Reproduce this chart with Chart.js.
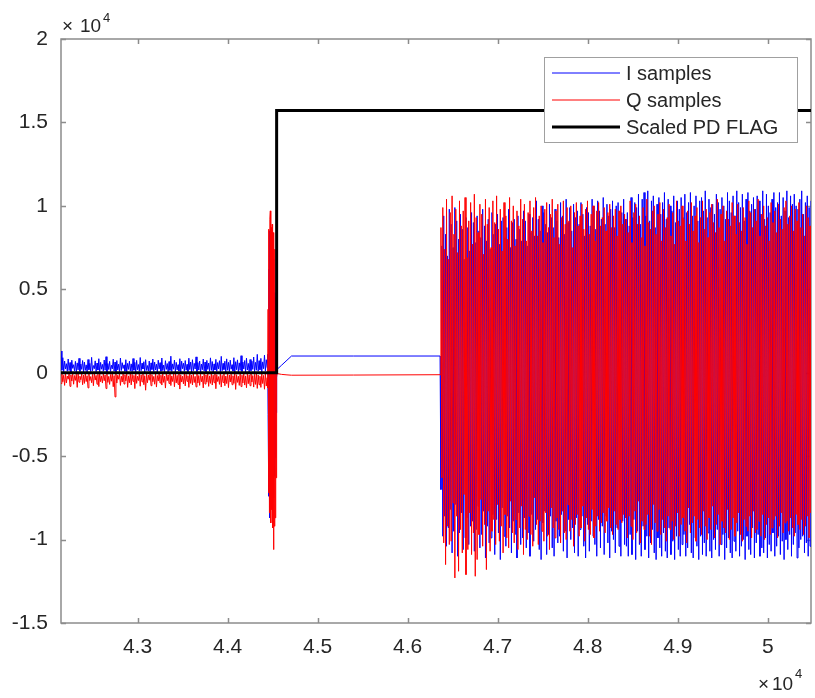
<!DOCTYPE html>
<html>
<head>
<meta charset="utf-8">
<title>I/Q samples and PD flag</title>
<script src="https://cdn.jsdelivr.net/npm/chart.js@4.4.1/dist/chart.umd.min.js"></script>
<style>
  html, body { margin: 0; padding: 0; background: #fff; }
  #wrap { width: 815px; height: 698px; }
</style>
</head>
<body>
<div id="wrap"><canvas id="iqChart" width="815" height="698"></canvas></div>
<script>
// sample index stretches of the capture (start, step)
const preStart = 42150, preStep = 10;
const burstStart = 44445, burstStep = 5;
const quietX = [44550, 44600, 44660, 44710, 45400, 46360];
const oscStart = 46370, oscStep = 10.3;

// I samples
const iPre = [
  1300, 150, 900, 60, 700, 220, 540, 90, 820, 130, 610, 40, 750, 260, 480, 110, 680, 30, 590, 170,
  860, 80, 520, 200, 730, 50, 640, 140, 470, 20, 790, 180, 560, 70, 920, 120, 430, 240, 710, 60,
  580, 160, 840, 30, 620, 210, 500, 90, 760, 150, 960, 40, 550, 190, 680, 80, 450, 230, 810, 100,
  640, 20, 730, 170, 510, 60, 880, 130, 600, 250, 470, 90, 780, 40, 560, 200, 690, 110, 530, 70,
  850, 150, 620, 30, 740, 180, 490, 80, 910, 120, 570, 220, 660, 50, 780, 140, 430, 100, 700, 30,
  590, 190, 820, 70, 640, 160, 510, 40, 750, 230, 600, 90, 880, 130, 460, 60, 720, 200, 550, 20,
  670, 140, 990, 80, 530, 210, 760, 50, 620, 170, 480, 100, 840, 30, 690, 240, 570, 90, 730, 150,
  500, 60, 870, 190, 640, 40, 780, 120, 560, 220, 950, 70, 610, 160, 700, 30, 520, 180, 820, 110,
  640, 50, 740, 200, 580, 90, 890, 140, 670, 30, 530, 170, 800, 80, 610, 230, 720, 60, 980, 120,
  560, 190, 690, 40, 830, 150, 620, 70, 750, 210, 480, 100, 900, 30, 660, 180, 770, 60, 590, 140,
  1020, 80, 640, 220, 730, 50, 870, 160, 560, 30, 790, 120, 690, 200, 940, 70, 620, 150, 1100, 90,
  720, 180, 860, 60, 650, 240, 1050, 100, 780, 300
];
const iBurst = [1100, -2500, 6200, -7400, 8500, -8700, 7600, -6900, 8200, -7800, 7200,
                -8300, 6800, -7500, 5900, -6200, 4800, -5100, 3600, -2400, 500];
const iQuiet = [200, 450, 750, 1000, 1000, 1000];
const iOsc = [
  -7000, 7600, -9800, 9400, -8600, 8300, -10400, 7000, -9300, 9800, -8200, 8900, -10800, 7500, -9500, 9900, -7900, 9100, -11000, 8000,
  -9600, 9500, -8400, 8600, -10600, 6800, -9900, 9300, -8700, 8700, -10300, 7300, -9200, 9600, -8900, 9000, -10700, 7800, -9400, 9400,
  -8000, 8500, -10500, 8100, -9700, 9800, -8300, 8800, -11100, 7900, -9200, 9200, -10200, 7400, -9900, 9600, -8500, 8300, -10900, 8900,
  -8800, 9500, -9600, 7700, -11200, 9100, -8100, 9300, -9800, 8100, -10400, 8700, -8600, 9800, -9300, 7500, -10800, 9000, -8900, 9200,
  -9700, 8000, -11100, 9400, -8400, 8600, -10300, 7900, -9900, 9700, -8700, 9100, -10500, 7600, -9600, 9500, -11000, 8400, -8500, 9300,
  -10100, 8200, -9400, 10300, -8800, 9200, -10600, 8500, -11200, 10000, -9000, 9600, -8300, 8900, -10900, 8400, -9700, 10100, -8600, 9300,
  -10500, 8700, -11000, 9800, -8900, 9100, -10200, 8100, -9800, 10200, -8500, 9400, -10700, 8300, -9500, 10400, -11100, 9000, -8800, 9900,
  -10000, 8500, -9300, 10100, -10800, 9300, -8700, 9700, -11000, 8900, -9400, 10200, -8600, 9500, -10400, 8200, -11100, 9900, -9100, 9600,
  -10700, 8800, -8900, 10400, -9800, 10000, -10300, 8600, -11000, 10300, -8800, 9700, -10500, 9200, -9200, 10500, -10900, 8900, -8600, 10100,
  -10200, 9400, -11100, 9800, -9500, 10300, -10000, 8700, -10800, 10000, -9300, 10200, -10400, 9100, -11000, 9600, -8900, 10400, -10300, 9200,
  -10400, 9600, -11000, 8800, -9700, 10500, -10900, 9300, -8800, 10200, -11200, 9900, -9500, 10700, -10300, 8900, -11000, 10400, -9200, 10800,
  -10600, 9400, -9800, 10900, -11100, 9100, -10200, 10300, -9400, 10600, -10800, 8700, -11200, 10100, -9900, 10500, -10500, 9500, -11000, 10200,
  -9600, 10800, -10700, 9200, -11100, 10400, -9300, 10000, -10900, 9700, -10100, 10600, -11200, 9000, -9800, 10300, -10600, 9800, -11000, 10500,
  -10300, 9300, -9700, 10700, -11000, 9600, -10500, 10200, -9100, 10800, -10800, 9400, -11100, 10000, -9900, 10600, -10400, 9100, -11200, 10300,
  -9800, 10500, -10900, 9700, -10200, 10900, -11000, 9300, -9600, 10400, -10700, 9900, -11100, 10100, -10000, 9500, -10600, 10700, -9400, 10200,
  -11000, 9800, -10300, 10500, -9700, 10000, -11200, 9200, -10500, 10800, -9900, 10300, -10800, 9600, -11100, 10600, -10100, 9400, -10700, 10900,
  -9500, 10200, -11000, 9900, -10400, 10700, -10000, 9100, -11200, 10400, -9800, 10800, -10600, 9700, -10900, 10100, -9300, 10500, -11100, 9800,
  -10200, 10600, -9700, 10300, -11000, 9500, -10500, 10900, -10800, 9200, -9900, 10700, -11100, 10000, -10300, 9600, -10700, 10400, -9600, 10800,
  -11000, 9900, -10400, 10200, -9800, 10800, -10900, 9400, -10100, 10500, -11200, 9700, -10000, 10900, -10600, 9300, -9700, 10600, -11000, 10100,
  -10300, 10700, -9600, 10000, -11100, 9800, -10500, 10400, -10000, 10900, -9800, 9500, -10800, 10200, -10200, 10600, -11000, 9900, -10400, 10300
];

// Q samples
const qPre = [
  -650, -80, -540, -150, -760, -40, -610, -200, -390, -60, -820, -130, -500, -30, -690, -170, -460, -90, -880, -50,
  -570, -210, -420, -70, -720, -140, -640, -20, -530, -180, -910, -60, -470, -230, -600, -100, -780, -40, -440, -160,
  -690, -90, -830, -30, -540, -190, -620, -70, -480, -140, -950, -50, -580, -220, -700, -110, -510, -20, -840, -170,
  -1450, -60, -620, -150, -390, -80, -760, -210, -560, -40, -680, -120, -490, -30, -880, -190, -600, -70, -730, -100,
  -520, -160, -950, -40, -640, -200, -470, -60, -810, -130, -550, -20, -720, -180, -1050, -90, -600, -140, -450, -50,
  -780, -110, -540, -220, -690, -30, -860, -170, -500, -80, -620, -150, -740, -40, -580, -200, -920, -70, -480, -130,
  -650, -20, -770, -190, -530, -90, -840, -60, -610, -160, -700, -30, -980, -120, -560, -210, -670, -50, -790, -100,
  -520, -180, -880, -40, -640, -140, -730, -70, -590, -220, -850, -30, -620, -170, -760, -90, -540, -200, -910, -60,
  -680, -130, -570, -50, -820, -190, -640, -20, -740, -150, -600, -80, -960, -110, -530, -230, -700, -40, -860, -160,
  -590, -70, -780, -200, -650, -30, -890, -140, -560, -90, -720, -180, -640, -50, -1000, -120, -580, -210, -760, -60,
  -830, -150, -620, -40, -740, -190, -900, -80, -660, -130, -780, -20, -560, -170, -860, -100, -700, -60, -940, -140,
  -720, -210, -880, -70, -650, -160, -990, -40, -800, -300
];
const qBurst = [-900, 3800, -7200, 8600, -8400, 9200, 9700, -9000, 8700, -8200, 8900,
                -9300, 8400, -10600, 8100, -9200, 7400, -8700, 4500, -6300, -300];
const qQuiet = [-50, -100, -130, -150, -140, -120];
const qOsc = [
  8700, -6300, 9900, -10200, 7400, -11500, 10400, -9200, 6800, -10300, 9600, -10100, 10600, -7800, 8300, -12300, 9800, -8600, 7200, -11900,
  10300, -9400, 8800, -10800, 9700, -7300, 10500, -12100, 6900, -10600, 9100, -8400, 10200, -10900, 7700, -9600, 10700, -12200, 9300, -11200,
  8400, -9700, 10100, -7600, 9500, -10400, 7100, -9100, 10400, -11800, 8900, -8300, 9900, -10700, 7500, -9500, 10300, -8800, 9000, -10300,
  10600, -7900, 8600, -10100, 9800, -9200, 7300, -10800, 10200, -8500, 9400, -9900, 8000, -10500, 10500, -7700, 9100, -9600, 10000, -10200,
  7600, -8800, 9700, -10600, 8800, -9300, 10400, -8000, 9200, -10900, 10100, -9400, 7900, -10000, 9600, -8600, 10300, -9700, 8500, -10400,
  9900, -7500, 10500, -9100, 8200, -10300, 9400, -8900, 10000, -9500, 7800, -10100, 9800, -8400, 10200, -9800, 8700, -10600, 9500, -8100,
  10400, -9300, 8100, -9900, 9700, -8700, 10100, -9400, 7700, -10200, 9300, -8300, 10300, -9600, 8900, -10000, 9900, -7900, 9100, -9500,
  10000, -8800, 7500, -10400, 9600, -9100, 10200, -8500, 8800, -9800, 9400, -9300, 10100, -8000, 8600, -10100, 9800, -8700, 10300, -9400,
  8300, -9700, 9500, -8200, 10000, -9900, 7900, -9200, 9700, -8600, 10200, -9500, 8800, -9000, 9300, -8400, 9900, -9600, 8500, -8900,
  9600, -8100, 10100, -9300, 8700, -9700, 9400, -8300, 9800, -9100, 8200, -9400, 9700, -8800, 10000, -9000, 8900, -8500, 9500, -8700,
  9200, -9900, 8400, -8600, 10300, -9200, 7800, -10000, 9600, -8300, 10100, -9600, 8900, -7700, 9400, -10200, 8100, -8900, 9900, -9400,
  7600, -9100, 10400, -8500, 9000, -9800, 8600, -10300, 9700, -7900, 10000, -9000, 8300, -9500, 9500, -8200, 10200, -9700, 7900, -8800,
  9800, -9300, 8700, -10100, 9300, -8600, 10100, -9400, 8200, -8900, 9600, -10000, 7700, -9200, 10300, -8400, 9100, -9800, 8800, -9100,
  10000, -8700, 9200, -9500, 7900, -10200, 9700, -8100, 8900, -9600, 10200, -9000, 8500, -8600, 9400, -10100, 9900, -8800, 7800, -9300,
  9300, -9700, 10300, -8300, 8600, -9200, 9800, -10000, 8100, -8700, 9600, -9400, 10100, -8000, 9000, -9900, 8400, -9100, 10400, -8500,
  8700, -10300, 9500, -8900, 10000, -9300, 7900, -9600, 9700, -8200, 9200, -10000, 8800, -9400, 10200, -8700, 9400, -9800, 8300, -9000,
  10100, -8400, 9000, -9700, 8500, -10100, 9900, -8800, 9300, -9200, 7700, -9500, 10300, -8600, 9600, -9900, 8700, -8300, 9800, -9600,
  9100, -9400, 10400, -8900, 8200, -9800, 9500, -8500, 10000, -10000, 8800, -9100, 9300, -8700, 7900, -9700, 10200, -9300, 9000, -8800,
  9700, -8600, 8400, -9900, 10100, -9200, 9200, -8400, 8600, -9600, 9900, -9000, 10300, -8900, 8900, -9500, 9400, -8700, 10000, -9300,
  8500, -9800, 9800, -8500, 9100, -9100, 10200, -9400, 8700, -8800, 9500, -9700, 8200, -9200, 10000, -8600, 9300, -9900, 8800, -8400
];

// scaled packet-detect flag
const flagX = [42150, 44545, 44545, 50480];
const flagY = [0, 0, 15720, 15720];

// axis ticks
const xTickValues = [43000, 44000, 45000, 46000, 47000, 48000, 49000, 50000];
const xTickLabels = ['4.3', '4.4', '4.5', '4.6', '4.7', '4.8', '4.9', '5'];
const yTickValues = [-15000, -10000, -5000, 0, 5000, 10000, 15000, 20000];
const yTickLabels = ['-1.5', '-1', '-0.5', '0', '0.5', '1', '1.5', '2'];

const FONT = "'Liberation Sans', Arial, Helvetica, sans-serif";
const TEXT = '#262626';

function stretch(start, step, n) {
    const out = [];
    for (let k = 0; k < n; k++) out.push(start + k * step);
    return out;
}

const xAll = [
    ...stretch(preStart, preStep, iPre.length),
    ...stretch(burstStart, burstStep, iBurst.length),
    ...quietX,
    ...stretch(oscStart, oscStep, iOsc.length)
];
const iAll = [...iPre, ...iBurst, ...iQuiet, ...iOsc];
const qAll = [...qPre, ...qBurst, ...qQuiet, ...qOsc];
const toPoints = (xs, ys) => ys.map((y, k) => ({ x: xs[k], y: y }));

// box, inward ticks, exponent labels and the legend (drawn MATLAB style)
const axesFrame = {
    id: 'axesFrame',
    beforeDatasetsDraw(chart) {
        const { ctx, chartArea: a, scales } = chart;
        ctx.save();
        ctx.strokeStyle = '#8c8c8c';
        ctx.lineWidth = 1.5;
        ctx.strokeRect(a.left, a.top, a.right - a.left, a.bottom - a.top);
        ctx.beginPath();
        xTickValues.forEach(v => {
            const px = Math.round(scales.x.getPixelForValue(v)) + 0.5;
            ctx.moveTo(px, a.bottom); ctx.lineTo(px, a.bottom - 5);
            ctx.moveTo(px, a.top); ctx.lineTo(px, a.top + 5);
        });
        yTickValues.forEach(v => {
            const py = Math.round(scales.y.getPixelForValue(v)) + 0.5;
            ctx.moveTo(a.left, py); ctx.lineTo(a.left + 5, py);
            ctx.moveTo(a.right, py); ctx.lineTo(a.right - 5, py);
        });
        ctx.stroke();
        ctx.restore();
    },
    afterDatasetsDraw(chart) {
        const { ctx, chartArea: a } = chart;
        ctx.save();

        // legend box
        const bx = a.right - 267, by = a.top + 18, bw = 253, bh = 85;
        ctx.fillStyle = '#fff';
        ctx.fillRect(bx, by, bw, bh);
        ctx.strokeStyle = '#a0a0a0';
        ctx.lineWidth = 1;
        ctx.strokeRect(bx + 0.5, by + 0.5, bw, bh);
        ctx.font = '20px ' + FONT;
        ctx.textBaseline = 'middle';
        ctx.textAlign = 'left';
        chart.data.datasets.forEach((ds, k) => {
            const ly = by + 16 + k * 27;
            ctx.strokeStyle = ds.borderColor;
            ctx.lineWidth = ds.borderWidth;
            ctx.beginPath();
            ctx.moveTo(bx + 8, ly); ctx.lineTo(bx + 76, ly);
            ctx.stroke();
            ctx.fillStyle = TEXT;
            ctx.fillText(ds.label, bx + 82, ly + 1);
        });

        // x10^4 multipliers
        ctx.fillStyle = TEXT;
        ctx.textBaseline = 'alphabetic';
        ctx.font = '19px ' + FONT;
        ctx.fillText('\u00d7', a.left + 1, a.top - 7);
        ctx.fillText('10', a.left + 19, a.top - 7);
        ctx.font = '13px ' + FONT;
        ctx.fillText('4', a.left + 42, a.top - 17);

        ctx.font = '19px ' + FONT;
        ctx.fillText('\u00d7', a.right - 53, a.bottom + 67);
        ctx.fillText('10', a.right - 39, a.bottom + 67);
        ctx.font = '13px ' + FONT;
        ctx.fillText('4', a.right - 16, a.bottom + 55);
        ctx.restore();
    }
};

Chart.defaults.font.family = FONT;

new Chart(document.getElementById('iqChart'), {
    type: 'line',
    data: {
        datasets: [
            { label: 'I samples', data: toPoints(xAll, iAll), borderColor: '#0000ff', borderWidth: 1, order: 2 },
            { label: 'Q samples', data: toPoints(xAll, qAll), borderColor: '#ff0000', borderWidth: 1, order: 1 },
            { label: 'Scaled PD FLAG', data: toPoints(flagX, flagY), borderColor: '#000000', borderWidth: 3, order: 0 }
        ]
    },
    options: {
        responsive: false,
        animation: false,
        devicePixelRatio: 1,
        layout: { padding: { left: 0, top: 39, right: 4, bottom: 0 } },
        elements: { point: { radius: 0 }, line: { tension: 0, borderJoinStyle: 'miter' } },
        plugins: { legend: { display: false }, tooltip: { enabled: false } },
        scales: {
            x: {
                type: 'linear', min: 42150, max: 50480,
                grid: { display: false, drawTicks: false },
                border: { display: false },
                afterBuildTicks: s => { s.ticks = xTickValues.map(v => ({ value: v })); },
                afterFit: s => { s.height = 75; },
                ticks: {
                    autoSkip: false, maxRotation: 0, padding: 12,
                    color: TEXT, font: { size: 21 },
                    callback: v => xTickLabels[xTickValues.indexOf(v)]
                }
            },
            y: {
                type: 'linear', min: -15000, max: 20000,
                grid: { display: false, drawTicks: false },
                border: { display: false },
                afterBuildTicks: s => { s.ticks = yTickValues.map(v => ({ value: v })); },
                afterFit: s => { s.width = 61; },
                ticks: {
                    autoSkip: false, padding: 13,
                    color: TEXT, font: { size: 21 },
                    callback: v => yTickLabels[yTickValues.indexOf(v)]
                }
            }
        }
    },
    plugins: [axesFrame]
});
</script>
</body>
</html>
